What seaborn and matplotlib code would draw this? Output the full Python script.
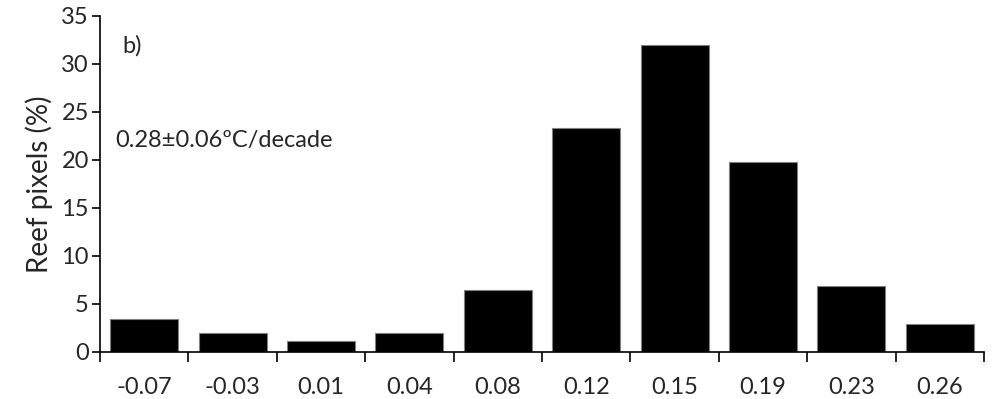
import numpy as np
import pandas as pd
import matplotlib
matplotlib.use("Agg")
import matplotlib.pyplot as plt
from matplotlib.ticker import FixedLocator
import seaborn as sns

trend_bins = ["-0.07", "-0.03", "0.01", "0.04", "0.08", "0.12", "0.15", "0.19", "0.23", "0.26"]
reef_pct = [3.4, 2.0, 1.1, 2.0, 6.4, 23.3, 32.0, 19.8, 6.85, 2.9]
panel_label = "b)"
trend_text = "0.28±0.06ºC/decade"

df = pd.DataFrame({"bin": trend_bins, "pct": reef_pct})

sns.set_style("white")
plt.rcParams["font.family"] = ["Lato", "DejaVu Sans"]

fig = plt.figure(figsize=(9.92, 3.99), dpi=100)
ax = fig.add_axes([0.1008, 0.1185, 0.8912, 0.8415])

sns.barplot(data=df, x="bin", y="pct", ax=ax, color="black", width=0.77,
            edgecolor="#808080", linewidth=0.8, saturation=1)

ax.set_xlim(-0.5, len(trend_bins) - 0.5)
ax.set_ylim(0, 35)
ax.set_yticks(range(0, 36, 5))
ax.set_xlabel("")
ax.set_ylabel("Reef pixels (%)", fontsize=20, labelpad=6)

for s in ["top", "right"]:
    ax.spines[s].set_visible(False)
for s in ["left", "bottom"]:
    ax.spines[s].set_color("black")
    ax.spines[s].set_linewidth(1.2)

ax.tick_params(axis="y", which="major", direction="out", length=6, width=1.2,
               labelsize=17, left=True, color="black", pad=2)
ax.tick_params(axis="x", which="major", length=0, labelsize=17, pad=18)
ax.xaxis.set_minor_locator(FixedLocator(np.arange(-0.5, len(trend_bins), 1.0)))
ax.tick_params(axis="x", which="minor", direction="out", length=7, width=1.2,
               bottom=True, color="black")

ax.text(0.025, 0.91, panel_label, transform=ax.transAxes, fontsize=17,
        va="center", ha="left")
ax.text(0.017, 0.63, trend_text, transform=ax.transAxes, fontsize=17,
        va="center", ha="left")

fig.savefig("out.png", dpi=100)
